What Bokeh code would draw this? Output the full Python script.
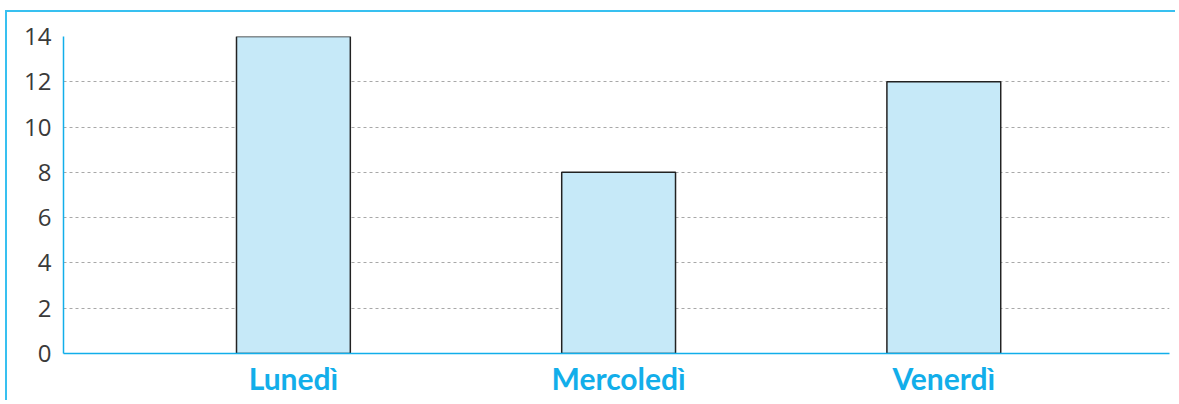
from bokeh.plotting import figure
from bokeh.models import FixedTicker, Range1d, ColumnDataSource
from bokeh.embed import file_html
from bokeh.resources import INLINE

# Data
categories = ["Lunedì", "Mercoledì", "Venerdì"]
values = [14, 8, 12]
positions = [1, 2, 3]
y_ticks = [0, 2, 4, 6, 8, 10, 12, 14]

CYAN = "#12aeea"

src = ColumnDataSource(dict(x=positions, top=values))

p = figure(width=1170, height=390, output_backend="svg", toolbar_location=None,
           x_range=Range1d(0.293, 3.694), y_range=Range1d(0, 14),
           min_border_left=56, min_border_right=8, min_border_top=24,
           min_border_bottom=49)
p.margin = (10, 0, 0, 5)
p.styles = {"border-top": "2px solid #38c0f0", "border-left": "2px solid #38c0f0"}
p.outline_line_color = None
p.background_fill_color = "white"
p.border_fill_color = "white"

p.vbar(x="x", top="top", width=0.35, bottom=0, source=src,
       fill_color="#c6e9f8", line_color="#222222", line_width=1.5)

# Axes
p.yaxis.ticker = FixedTicker(ticks=y_ticks)
p.xaxis.ticker = FixedTicker(ticks=positions)
p.xaxis.major_label_overrides = {pos: c for pos, c in zip(positions, categories)}

for ax in (p.xaxis[0], p.yaxis[0]):
    ax.axis_line_color = CYAN
    ax.axis_line_width = 1.5
    ax.major_tick_line_color = None
    ax.minor_tick_line_color = None

p.yaxis.major_label_text_font = "Open Sans"
p.yaxis.major_label_text_font_size = "24px"
p.yaxis.major_label_text_color = "#3a3a3a"
p.yaxis.major_label_standoff = 6

p.xaxis.major_label_text_font = "Lato"
p.xaxis.major_label_text_font_style = "bold"
p.xaxis.major_label_text_font_size = "30px"
p.xaxis.major_label_text_color = CYAN
p.xaxis.major_label_standoff = 0

p.xgrid.grid_line_color = None
p.ygrid.grid_line_color = "#a8a8a8"
p.ygrid.grid_line_dash = "3 3"
p.ygrid.grid_line_width = 1

open("out.html", "w").write(file_html(p, INLINE))
